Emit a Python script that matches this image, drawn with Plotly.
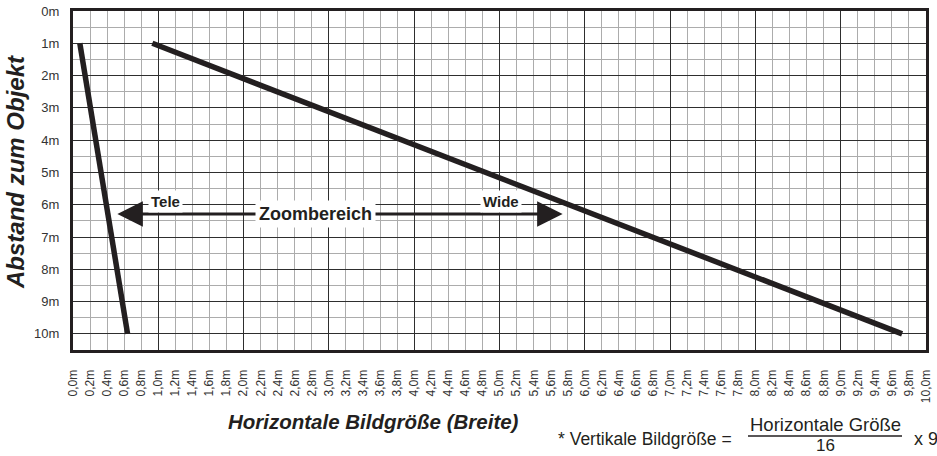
import plotly.graph_objects as go

# Distances to the subject (m) and the matching horizontal picture width (m)
distance_m = [1, 10]
tele_width_m = [0.08, 0.64]
wide_width_m = [0.93, 9.72]

# Axis ticks
x_tick_vals = [round(i * 0.2, 1) for i in range(51)]
x_tick_text = [f"{v:.1f}".replace(".", ",") + "m" for v in x_tick_vals]
y_tick_vals = list(range(11))
y_tick_text = [f"{v}m" for v in y_tick_vals]

INK = "#231f20"
FONT = "Liberation Sans, Arial, sans-serif"
MINOR_GRID = "#acacac"
MAJOR_GRID = "#2e2e2e"

# plot area in pixels
L, R, T, B = 73, 926, 11, 350
PW, PH = R - L, B - T


def px(x):
    return (x - L) / PW


def py(y):
    return (B - y) / PH


fig = go.Figure()

fig.add_trace(go.Scatter(x=tele_width_m, y=distance_m, mode="lines",
                         line=dict(color=INK, width=5.5), showlegend=False,
                         hoverinfo="skip"))
fig.add_trace(go.Scatter(x=wide_width_m, y=distance_m, mode="lines",
                         line=dict(color=INK, width=5.5), showlegend=False,
                         hoverinfo="skip"))
# carrier trace for the overlay axis holding the 1 m grid
fig.add_trace(go.Scatter(x=[0, 10], y=[0, 10], xaxis="x2", mode="markers",
                         marker=dict(opacity=0), showlegend=False,
                         hoverinfo="skip"))

fig.update_layout(
    width=937, height=456,
    margin=dict(l=L, r=937 - R, t=T, b=456 - B),
    paper_bgcolor="white", plot_bgcolor="white",
    font=dict(family=FONT, color="#333333", size=12),
    xaxis=dict(
        range=[0, 10], tickmode="array", tickvals=x_tick_vals,
        ticktext=x_tick_text, tickangle=-90, ticklabelstandoff=12,
        showgrid=True, gridcolor=MINOR_GRID, gridwidth=1.2,
        zeroline=False, showline=True, linecolor=INK, linewidth=3,
        mirror=True, tickfont=dict(size=12, color="#333333"),
        automargin=False,
    ),
    xaxis2=dict(
        range=[0, 10], overlaying="x", side="bottom", dtick=1, tick0=0,
        showgrid=True, gridcolor=MAJOR_GRID, gridwidth=1.3,
        showticklabels=False, zeroline=False, showline=False,
        automargin=False,
    ),
    yaxis=dict(
        range=[10.5, 0], tickmode="array", tickvals=y_tick_vals,
        ticktext=y_tick_text, showgrid=True, gridcolor=MAJOR_GRID,
        gridwidth=1.3, zeroline=False, showline=True, linecolor=INK,
        linewidth=3, mirror=True, ticklabelstandoff=8,
        tickfont=dict(size=13, color="#333333"), automargin=False,
        minor=dict(tickvals=[i + 0.5 for i in range(11)], showgrid=True,
                   gridcolor=MINOR_GRID, gridwidth=1.2),
    ),
)

# Zoom range arrows
arrow_y = 6.29
zoom_label_x = 2.84
for tip in (0.52, 5.74):
    fig.add_annotation(x=tip, y=arrow_y, ax=zoom_label_x, ay=arrow_y,
                       xref="x", yref="y", axref="x", ayref="y",
                       text="", showarrow=True, arrowhead=2, arrowsize=1.7,
                       arrowwidth=3, arrowcolor=INK)

fig.add_annotation(x=zoom_label_x, y=arrow_y, xref="x", yref="y",
                   text="<b>Zoombereich</b>", showarrow=False,
                   font=dict(size=18, color=INK, family=FONT),
                   bgcolor="white", borderpad=3)
fig.add_annotation(x=1.09, y=5.91, xref="x", yref="y", text="<b>Tele</b>",
                   showarrow=False, font=dict(size=15, color=INK, family=FONT),
                   bgcolor="white", borderpad=2)
fig.add_annotation(x=5.02, y=5.91, xref="x", yref="y", text="<b>Wide</b>",
                   showarrow=False, font=dict(size=15, color=INK, family=FONT),
                   bgcolor="white", borderpad=2)


def paper_text(x, y, text, size, **kw):
    fig.add_annotation(x=px(x), y=py(y), xref="paper", yref="paper",
                       text=text, showarrow=False,
                       xanchor=kw.pop("xanchor", "center"), yanchor="middle",
                       font=dict(size=size, color=INK, family=FONT), **kw)


# Axis titles
paper_text(15, 172, "<b><i>Abstand zum Objekt</i></b>", 24, textangle=-90)
paper_text(373, 421, "<b><i>Horizontale Bildgröße (Breite)</i></b>", 20.5)

# Footnote formula for the vertical picture size
paper_text(556, 439, "* Vertikale Bildgröße =", 17.5, xanchor="left")
paper_text(825, 424, "Horizontale Größe", 18.5)
paper_text(825, 445, "16", 17, borderpad=0)
paper_text(926, 439, "x 9", 18)
fig.add_shape(type="line", xref="paper", yref="paper",
              x0=px(748), x1=px(902), y0=py(436), y1=py(436),
              line=dict(color=INK, width=1.3))

fig.write_html("out.html")
